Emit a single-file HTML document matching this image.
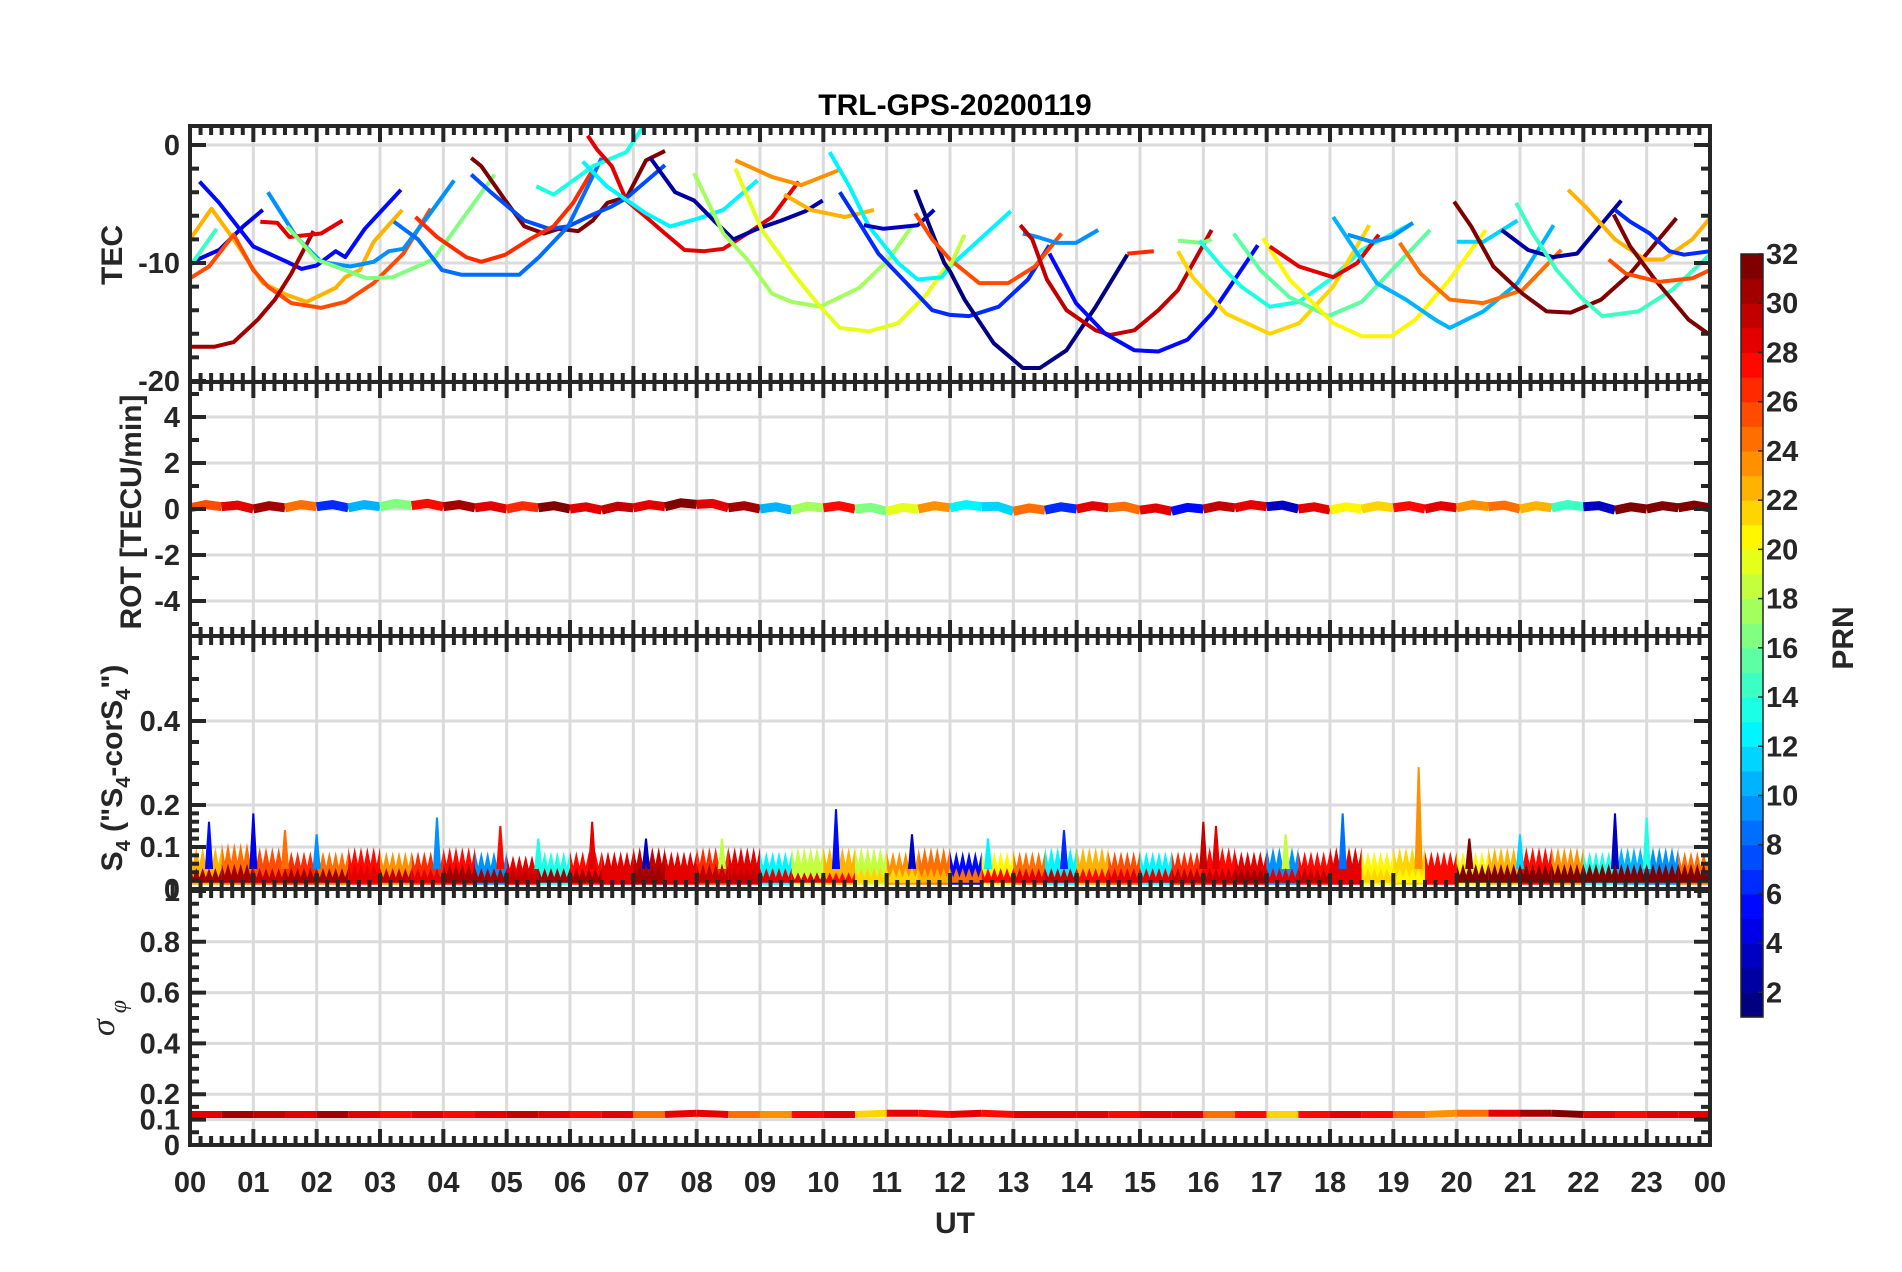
<!DOCTYPE html>
<html><head><meta charset="utf-8"><style>
html,body{margin:0;padding:0;background:#fff;}
svg{display:block;font-family:"Liberation Sans",sans-serif;}
</style></head><body>
<svg id="fig" width="1902" height="1272" viewBox="0 0 1902 1272" xmlns="http://www.w3.org/2000/svg">
<defs>
<clipPath id="cT"><rect x="190" y="126" width="1520" height="256"/></clipPath>
<clipPath id="cR"><rect x="190" y="382" width="1520" height="254"/></clipPath>
<clipPath id="cS"><rect x="190" y="636" width="1520" height="253"/></clipPath>
<clipPath id="cG"><rect x="190" y="889" width="1520" height="256"/></clipPath>
</defs>
<g id="grid"></g>
<g id="marks"></g>
<g id="frames"></g>
<g id="labels"></g>
<text x="955" y="115" text-anchor="middle" font-size="30" font-weight="bold" fill="#000">TRL-GPS-20200119</text>
<text x="955" y="1233" text-anchor="middle" font-size="30" font-weight="bold" fill="#262626">UT</text>
<text transform="translate(122,255) rotate(-90)" text-anchor="middle" font-size="30" font-weight="bold" fill="#262626">TEC</text>
<text transform="translate(141,512) rotate(-90)" text-anchor="middle" font-size="30" font-weight="bold" fill="#262626">ROT [TECU/min]</text>
<text transform="translate(122,768) rotate(-90)" text-anchor="middle" font-size="30" font-weight="bold" fill="#262626">S<tspan font-size="20" dy="8">4</tspan><tspan dy="-8"> ("S</tspan><tspan font-size="20" dy="8">4</tspan><tspan dy="-8">-corS</tspan><tspan font-size="20" dy="8">4</tspan><tspan dy="-8">")</tspan></text>
<text transform="translate(114,1018) rotate(-90)" text-anchor="middle" font-size="34" font-style="italic" fill="#262626" font-family="Liberation Serif,serif">σ<tspan font-size="24" dy="12"> φ</tspan></text>
<g id="cbar"></g>
<text transform="translate(1853,638) rotate(-90)" text-anchor="middle" font-size="30" font-weight="bold" fill="#262626">PRN</text>
</svg>
<script>
// ---------- data ----------
const hourTicks = ["00","01","02","03","04","05","06","07","08","09","10","11","12","13","14","15","16","17","18","19","20","21","22","23","00"];
const tecTicks = [0,-10,-20];
const rotTicks = [4,2,0,-2,-4];
const s4Ticks = [0,0.1,0.2,0.4];
const sigTicks = [0,0.1,0.2,0.4,0.6,0.8,1];
const cbarTicks = [2,4,6,8,10,12,14,16,18,20,22,24,26,28,30,32];

const tecPrn = [4,5,22,14,25,30,28,9,16,31,7,26,8,13,28,12,2,17,19,23,22,12,6,3,1,25,18,9,29,5,26,16,13,21,15,20,28,10,9,24,11,31,2,14,22,6,32,25];
const tecArcs = [
 [[0.04,-9.9],[0.46,-8.9],[0.84,-6.9],[1.15,-5.5]],
 [[0.15,-3.1],[0.46,-4.9],[1.0,-8.6],[1.53,-9.9],[1.76,-10.5],[2.0,-10.2],[2.3,-9],[2.45,-9.5],[2.76,-7.1],[3.33,-3.8]],
 [[0,-8],[0.34,-5.4],[0.69,-8],[1.15,-11.7],[1.53,-12.7],[1.84,-13.3],[2.07,-12.7],[2.3,-12.1],[2.45,-11.2],[2.68,-10.6],[2.9,-8.2],[3.35,-5.5]],
 [[0,-10.3],[0.42,-7.1]],
 [[0,-11.3],[0.3,-10.3],[0.69,-7.6],[1.0,-10.6],[1.23,-12],[1.6,-13.4],[2.07,-13.8],[2.45,-13.3],[2.9,-11.7],[3.37,-9.2],[3.8,-5.4]],
 [[0,-17.1],[0.38,-17.1],[0.69,-16.7],[1.07,-14.8],[1.34,-13.1],[1.6,-10.9],[1.95,-7.3]],
 [[1.11,-6.5],[1.38,-6.6],[1.57,-7.8],[2.07,-7.5],[2.41,-6.4]],
 [[1.23,-4],[1.68,-7.8],[2.07,-9.9],[2.53,-10.3],[2.9,-9.9],[3.14,-9],[3.37,-8.8],[3.75,-6.1],[4.17,-3]],
 [[1.53,-6.9],[2.0,-9.7],[2.79,-11.3],[3.2,-11.2],[3.84,-9.7],[4.81,-2.5]],
 [[4.44,-1.1],[4.6,-1.8],[4.98,-4.7],[5.28,-6.9],[5.59,-7.5],[5.82,-7.1],[6.13,-7.3],[6.36,-6.4],[6.59,-4.9],[6.9,-4.4],[7.2,-1.3],[7.5,-0.5]],
 [[4.44,-2.5],[4.75,-4],[5.28,-6.4],[5.67,-7.1],[5.97,-6.9],[6.36,-5.9],[6.66,-5.2],[6.89,-4.5],[7.5,-1.7]],
 [[3.56,-6.1],[3.9,-7.8],[4.36,-9.5],[4.6,-9.9],[4.98,-9.3],[5.36,-8],[5.74,-6.9],[6.05,-4.9],[6.36,-2.1]],
 [[3.22,-6.5],[3.6,-8],[3.98,-10.6],[4.29,-11],[5.2,-11],[5.51,-9.5],[5.97,-6.9],[6.5,-1.1]],
 [[5.47,-3.5],[5.74,-4.2],[6.13,-2.7],[6.36,-1.8],[6.89,-0.6],[7.16,1.6]],
 [[6.28,0.8],[6.43,-0.4],[6.66,-1.8],[6.89,-4.7],[7.2,-6.1],[7.5,-7.5],[7.81,-8.9],[8.12,-9],[8.42,-8.8],[8.8,-7.5],[9.19,-6.1],[9.61,-3.1]],
 [[6.2,-1.4],[6.58,-3.5],[7.2,-5.8],[7.58,-6.9],[8.04,-6.2],[8.42,-5.5],[8.96,-3]],
 [[7.27,-1.1],[7.66,-4],[7.96,-4.7],[8.27,-6.4],[8.58,-8],[8.96,-7.1],[9.34,-6.4],[9.72,-5.6],[9.99,-4.7]],
 [[7.96,-2.4],[8.42,-7.5],[8.8,-9.7],[9.19,-12.6],[9.5,-13.3],[9.95,-13.7],[10.57,-12.1],[11.03,-9.7],[11.41,-6.8]],
 [[8.61,-2],[9.03,-7.2],[9.57,-11.2],[9.95,-13.7],[10.26,-15.5],[10.72,-15.8],[11.18,-15.1],[11.64,-12.6],[11.98,-10]],
 [[8.61,-1.3],[9.19,-2.7],[9.65,-3.4],[10.26,-2.1]],
 [[9.38,-4.2],[9.8,-5.5],[10.34,-6.1],[10.8,-5.5]],
 [[10.1,-0.6],[10.41,-3.5],[10.72,-6.9],[11.18,-10],[11.49,-11.4],[11.87,-11.2],[12.0,-10.3],[12.96,-5.6]],
 [[10.26,-4],[10.57,-6.6],[10.87,-9.2],[11.26,-11.4],[11.72,-14],[12.0,-14.4],[12.3,-14.5],[12.77,-13.7],[13.23,-11.4],[13.57,-8.5]],
 [[10.64,-6.8],[10.95,-7.1],[11.49,-6.8],[11.75,-5.5]],
 [[11.45,-3.8],[11.68,-6.9],[11.91,-10],[12.0,-10.7],[12.23,-13.1],[12.69,-16.8],[13.15,-18.9],[13.42,-18.9],[13.84,-17.4],[14.3,-13.7],[14.8,-9.3]],
 [[11.45,-5.8],[11.72,-8],[12.0,-9.7],[12.46,-11.7],[12.92,-11.7],[13.34,-10.3],[13.76,-7.5]],
 [[12.0,-10.3],[12.23,-7.6]],
 [[13.15,-7.5],[13.38,-7.8],[13.68,-8.3],[13.99,-8.3],[14.34,-7.2]],
 [[13.11,-6.8],[13.3,-8],[13.53,-11.4],[13.84,-14],[14.3,-15.7],[14.53,-16.1],[14.91,-15.7],[15.29,-14],[15.6,-12.3],[16.13,-7.2]],
 [[13.57,-9.2],[13.99,-13.4],[14.45,-16],[14.91,-17.4],[15.29,-17.5],[15.75,-16.5],[16.13,-14.3],[16.86,-8.5]],
 [[14.8,-9.2],[15.22,-9]],
 [[15.6,-8.1],[15.98,-8.3],[16.13,-8]],
 [[15.94,-8.1],[16.29,-10.3],[16.6,-12],[17.05,-13.7],[17.51,-13.3],[18.05,-11.2],[18.5,-8.9],[19.31,-6.6]],
 [[15.6,-9],[15.83,-11.2],[16.36,-14.3],[17.05,-16],[17.51,-15.1],[18.05,-12],[18.62,-6.8]],
 [[16.48,-7.5],[16.9,-10.6],[17.36,-12.9],[17.97,-14.5],[18.5,-13.3],[19.58,-7.2]],
 [[16.94,-7.9],[17.36,-11.4],[18.05,-15.1],[18.5,-16.2],[18.97,-16.2],[19.35,-14.8],[19.89,-11.4],[20.46,-7.2]],
 [[17.05,-8.6],[17.51,-10.3],[18.05,-11.2],[18.43,-10],[18.77,-7.6]],
 [[18.05,-6.1],[18.36,-8.6],[18.74,-11.7],[19.2,-13.1],[19.66,-14.8],[19.89,-15.5],[20.42,-14.1],[20.96,-11.7],[21.53,-6.8]],
 [[18.28,-7.6],[18.66,-8.2],[18.97,-7.8],[19.31,-6.6]],
 [[19.1,-8.3],[19.43,-10.9],[19.89,-13.1],[20.42,-13.4],[21.04,-12.3],[21.65,-8.9]],
 [[20.0,-8.2],[20.42,-8.2],[20.96,-6.4]],
 [[19.96,-4.8],[20.23,-6.9],[20.58,-10.3],[21.04,-12.6],[21.42,-14.1],[21.8,-14.2],[22.28,-13.1],[22.74,-10.9],[23.47,-6.2]],
 [[20.71,-7.2],[21.13,-8.9],[21.52,-9.5],[21.9,-9.2],[22.21,-7.2],[22.6,-4.7]],
 [[20.94,-4.9],[21.2,-7.5],[21.58,-10.6],[21.96,-12.9],[22.3,-14.5],[22.87,-14.1],[23.4,-12.3],[24,-9.3]],
 [[21.76,-3.8],[22.03,-5.2],[22.5,-8],[22.97,-9.7],[23.26,-9.7],[23.72,-8],[24,-6.2]],
 [[22.5,-5.5],[22.74,-6.5],[23.05,-7.5],[23.36,-9],[23.59,-9.3],[24,-9]],
 [[22.48,-5.9],[22.74,-8.6],[23.13,-11.4],[23.66,-14.8],[24,-16.1]],
 [[22.4,-9.7],[22.67,-10.9],[23.2,-11.6],[23.72,-11.3],[24,-10.6]]
];

// half-hour bins (48)
const rotMid = [0.05,0.1,0.0,0.05,0.1,0.05,0.1,0.15,0.1,0.05,0.0,0.05,0.0,-0.05,0.05,0.1,0.2,0.05,0.0,-0.05,0.05,0.0,-0.1,0.0,0.05,0.1,-0.1,-0.05,0.0,0.05,-0.05,-0.1,0.0,0.05,0.1,0.0,-0.05,0.0,0.05,0.0,0.05,0.1,0.0,0.05,0.1,-0.05,0.0,0.05];
const rotPrn = [25,28,30,24,6,10,16,27,30,28,26,31,28,29,28,31,28,30,10,17,27,16,19,23,12,11,24,6,28,24,28,5,29,28,3,28,20,21,27,28,23,24,22,14,3,31,31,31];

const s4Top = [0.10,0.11,0.10,0.09,0.09,0.10,0.09,0.09,0.10,0.09,0.08,0.09,0.09,0.09,0.10,0.09,0.10,0.10,0.09,0.10,0.10,0.10,0.09,0.10,0.09,0.09,0.09,0.10,0.10,0.09,0.09,0.09,0.10,0.09,0.10,0.09,0.10,0.09,0.10,0.09,0.09,0.10,0.10,0.10,0.09,0.10,0.10,0.09];
const s4Prn = [22,24,25,26,24,27,23,26,27,9,28,13,27,28,29,28,26,28,12,18,22,18,23,24,5,20,24,12,22,25,12,26,27,28,9,27,28,20,21,27,20,22,27,23,13,10,9,24];
const s4Base = [0.05,0.06,0.05,0.05,0.05,0.06,0.05,0.05,0.06,0.05,0.05,0.05,0.05,0.05,0.06,0.05,0.06,0.05,0.05,0.04,0.04,0.05,0.05,0.05,0.05,0.05,0.05,0.05,0.05,0.05,0.05,0.05,0.05,0.05,0.05,0.05,0.05,0.05,0.05,0.05,0.06,0.06,0.06,0.06,0.06,0.06,0.06,0.06];
const s4BasePrn = [30,30,29,30,30,28,29,28,30,30,29,30,30,28,30,28,29,29,28,28,27,21,21,22,24,27,28,29,27,28,28,29,29,30,28,29,28,21,20,27,31,31,31,31,31,31,31,31];
const s4SpikeHour = [0.3,1.0,1.5,2.0,3.9,4.9,5.5,6.35,7.2,8.4,10.2,11.4,12.6,13.8,16.0,16.2,17.3,18.2,19.4,20.2,21.0,22.5,23.0];
const s4SpikeVal = [0.16,0.18,0.14,0.13,0.17,0.15,0.12,0.16,0.12,0.12,0.19,0.13,0.12,0.14,0.16,0.15,0.13,0.18,0.29,0.12,0.13,0.18,0.17];
const s4SpikePrn = [5,4,24,9,9,27,13,28,3,18,5,3,12,6,29,28,18,8,23,31,11,3,13];

const sigMid = [0.12,0.12,0.12,0.12,0.12,0.12,0.12,0.12,0.12,0.12,0.12,0.12,0.12,0.12,0.12,0.12,0.125,0.12,0.12,0.12,0.12,0.12,0.125,0.125,0.12,0.125,0.12,0.12,0.12,0.12,0.12,0.12,0.12,0.12,0.12,0.12,0.12,0.12,0.12,0.12,0.125,0.125,0.125,0.125,0.12,0.12,0.12,0.12];
const sigPrn = [28,30,29,28,30,28,27,28,27,28,29,28,27,28,24,28,28,24,23,27,28,21,28,27,28,27,28,28,28,27,28,28,24,27,21,27,28,27,24,23,24,28,30,31,28,27,28,28];

// ---------- helpers ----------
const NS = "http://www.w3.org/2000/svg";
const X0 = 190, X1 = 1710;
function xS(h){ return X0 + h*(X1-X0)/24; }
function yT(v){ return 145 - v*11.8; }
function yR(v){ return 509 - v*23; }
function yS(v){ return 889 - v*420; }
function yG(v){ return 1145 - v*254; }
function jet(p){
  const k = Math.max(0, Math.min(30, Math.floor(p-1)));
  const v = k/30;
  const c = t => Math.round(255*Math.max(0, Math.min(1, t)));
  return `rgb(${c(1.5-Math.abs(4*v-3))},${c(1.5-Math.abs(4*v-2))},${c(1.5-Math.abs(4*v-1))})`;
}
function mk(tag, attrs, parent){
  const e = document.createElementNS(NS, tag);
  for (const k in attrs) e.setAttribute(k, attrs[k]);
  parent.appendChild(e);
  return e;
}
const grid = document.getElementById('grid');
const marks = document.getElementById('marks');
const frames = document.getElementById('frames');
const labels = document.getElementById('labels');
const INK = "#262626";

const panels = [
  {name:'tec', top:126, bot:382, y:yT, ticks:tecTicks, grid:tecTicks, minor:[-18,-16,-14,-12,-8,-6,-4,-2], fmt:v=>String(v)},
  {name:'rot', top:382, bot:636, y:yR, ticks:rotTicks, grid:rotTicks, minor:[5,3,1,-1,-3,-5], fmt:v=>String(v)},
  {name:'s4', top:636, bot:889, y:yS, ticks:s4Ticks, grid:[0.1,0.2,0.4], minor:[0.02,0.04,0.06,0.08,0.12,0.14,0.16,0.18,0.25,0.3,0.35,0.45,0.5,0.55], fmt:v=>String(v)},
  {name:'sigma', top:889, bot:1145, y:yG, ticks:sigTicks, grid:[0.1,0.2,0.4,0.6,0.8], minor:[0.05,0.15,0.25,0.3,0.35,0.45,0.5,0.55,0.65,0.7,0.75,0.85,0.9,0.95], fmt:v=>String(v)}
];

// grid
panels.forEach(P=>{
  for (let h=1; h<24; h++){
    const l = mk('line',{x1:xS(h),x2:xS(h),y1:P.top,y2:P.bot,stroke:'#dbdbdb','stroke-width':3},grid);
    
    
  }
  P.grid.forEach(v=>{
    const l = mk('line',{x1:X0,x2:X1,y1:P.y(v),y2:P.y(v),stroke:'#dbdbdb','stroke-width':3},grid);
    
    
  });
});

// TEC arcs
const gT = mk('g',{'clip-path':'url(#cT)'},marks);


tecArcs.forEach((arc,i)=>{
  const d = arc.map((p,j)=>(j?'L':'M')+xS(p[0]).toFixed(1)+','+yT(p[1]).toFixed(1)).join('');
  const e = mk('path',{d:d,fill:'none',stroke:jet(tecPrn[i]),'stroke-width':4,'stroke-linejoin':'round'},gT);
  
  
});

// ROT band
const gR = mk('g',{'clip-path':'url(#cR)'},marks);


rotMid.forEach((v,i)=>{
  const n = rotMid[Math.min(i+1,rotMid.length-1)];
  const e = mk('path',{d:`M${xS(i*0.5)},${yR(v)}L${xS(i*0.5+0.25)},${yR((v+n)/2+0.12)}L${xS(i*0.5+0.5)},${yR(n)}`,fill:'none',stroke:jet(rotPrn[i]),'stroke-width':9},gR);
  
  
});

// S4
const gS = mk('g',{'clip-path':'url(#cS)'},marks);


s4Top.forEach((v,i)=>{
  const h0=i*0.5, pts=[];
  pts.push([xS(h0),yS(0.01)]);
  for (let k=0;k<=10;k++){
    const hh=h0+k*0.05;
    const vv = (k%2===0)? v : v*0.6;
    pts.push([xS(hh),yS(vv)]);
  }
  pts.push([xS(h0+0.5),yS(0.01)]);
  const e = mk('polygon',{points:pts.map(p=>p[0].toFixed(1)+','+p[1].toFixed(1)).join(' '),fill:jet(s4Prn[i])},gS);
  
  
});
s4SpikeHour.forEach((h,i)=>{
  const e = mk('path',{d:`M${xS(h)-3},${yS(0.05)}L${xS(h)},${yS(s4SpikeVal[i])}L${xS(h)+3},${yS(0.05)}Z`,fill:jet(s4SpikePrn[i]),stroke:jet(s4SpikePrn[i]),'stroke-width':2},gS);
  
  
});
s4Base.forEach((v,i)=>{
  const h0=i*0.5, pts=[[xS(h0),yS(0.015)]];
  for (let k=0;k<=10;k++){
    const vv = (k%2===0)? v : v*0.55;
    pts.push([xS(h0+k*0.05),yS(vv)]);
  }
  pts.push([xS(h0+0.5),yS(0.015)]);
  const e = mk('polygon',{points:pts.map(p=>p[0].toFixed(1)+','+p[1].toFixed(1)).join(' '),fill:jet(s4BasePrn[i])},gS);
  
  
});

// sigma
const gG = mk('g',{'clip-path':'url(#cG)'},marks);


sigMid.forEach((v,i)=>{
  const n = sigMid[Math.min(i+1,sigMid.length-1)];
  const e = mk('line',{x1:xS(i*0.5),y1:yG(v),x2:xS(i*0.5+0.5),y2:yG(n),stroke:jet(sigPrn[i]),'stroke-width':7},gG);
  
  
});

// frames & ticks
panels.forEach((P,pi)=>{
  const r = mk('rect',{x:X0,y:P.top,width:X1-X0,height:P.bot-P.top,fill:'none',stroke:INK,'stroke-width':4},frames);
  
  
  let d='';
  for (let m=0; m<=144; m++){
    const x = X0 + m*(X1-X0)/144;
    const L = (m%6===0)? 16 : 9;
    d += `M${x},${P.top}v${L}M${x},${P.bot}v${-L}`;
  }
  P.ticks.forEach(v=>{ const y=P.y(v); d+=`M${X0},${y}h16M${X1},${y}h-16`; });
  P.minor.forEach(v=>{ const y=P.y(v); d+=`M${X0},${y}h9M${X1},${y}h-9`; });
  const t = mk('path',{d:d,stroke:INK,'stroke-width':4,fill:'none'},frames);
  
  
  P.ticks.forEach(v=>{
    const tx = mk('text',{x:180,y:P.y(v)+10,'text-anchor':'end','font-size':29,'font-weight':'bold',fill:INK},labels);
    tx.textContent = P.fmt(v);
    
    
  });
});
hourTicks.forEach((s,i)=>{
  const tx = mk('text',{x:xS(i),y:1192,'text-anchor':'middle','font-size':29,'font-weight':'bold',fill:INK},labels);
  tx.textContent = s;
  
  
});

// colorbar
const cb = document.getElementById('cbar');
const cTop=254, cBot=1017, cx=1741, cw=22;
function yC(v){ return cBot - (v-1)*(cBot-cTop)/31; }
for (let p=1;p<=31;p++){
  const e = mk('rect',{x:cx,y:yC(p+1),width:cw,height:yC(p)-yC(p+1)+0.6,fill:jet(p)},cb);
  
  
}
const cbo = mk('rect',{x:cx,y:cTop,width:cw,height:cBot-cTop,fill:'none',stroke:INK,'stroke-width':1.5},cb);


cbarTicks.forEach(v=>{
  const l = mk('line',{x1:cx+cw-5,x2:cx+cw,y1:yC(v),y2:yC(v),stroke:INK,'stroke-width':1.5},cb);
  
  
  const tx = mk('text',{x:1766,y:yC(v)+10,'font-size':29,'font-weight':'bold',fill:INK},cb);
  tx.textContent = String(v);
  
  
});
</script>
</body></html>
